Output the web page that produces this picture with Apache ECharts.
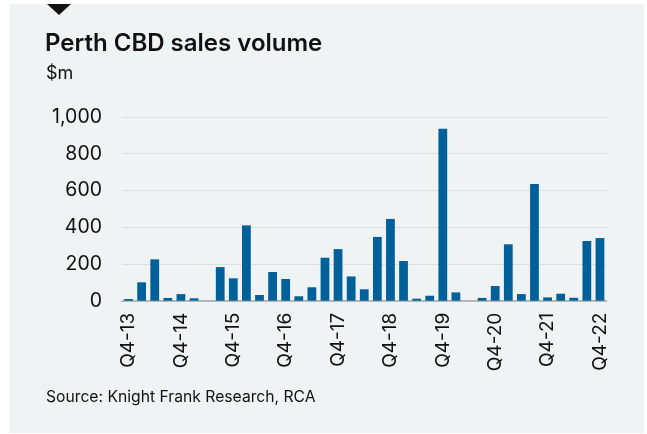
<!DOCTYPE html>
<html>
<head>
<meta charset="utf-8">
<script src="https://cdn.jsdelivr.net/npm/echarts@6/dist/echarts.min.js"></script>
<style>
  html, body { margin: 0; padding: 0; background: #ffffff; }
  #chart { width: 647px; height: 434px; }
</style>
</head>
<body>
<div id="chart"></div>
<script>
// Quarterly categories, Q4-13 through Q4-22
const quarters = [
  'Q4-13','Q1-14','Q2-14','Q3-14','Q4-14','Q1-15','Q2-15','Q3-15','Q4-15',
  'Q1-16','Q2-16','Q3-16','Q4-16','Q1-17','Q2-17','Q3-17','Q4-17',
  'Q1-18','Q2-18','Q3-18','Q4-18','Q1-19','Q2-19','Q3-19','Q4-19',
  'Q1-20','Q2-20','Q3-20','Q4-20','Q1-21','Q2-21','Q3-21','Q4-21',
  'Q1-22','Q2-22','Q3-22','Q4-22'
];
// Sales volume, $m
const salesVolume = [
  9, 100, 225, 15, 36, 13, 0, 183, 122,
  410, 31, 156, 118, 24, 73, 234, 281,
  132, 62, 347, 445, 216, 11, 27, 936,
  45, 0, 15, 80, 307, 36, 635, 18,
  38, 16, 325, 341
];
// Value-axis ticks
const yTicks = [0, 200, 400, 600, 800, 1000];

const FONT = 'Inter, "Liberation Sans", sans-serif';
const chart = echarts.init(document.getElementById('chart'), null, { renderer: 'canvas' });

chart.setOption({
  backgroundColor: '#ffffff',
  animation: false,
  graphic: [
    { type: 'rect', z: -10, shape: { x: 9, y: 4, width: 635, height: 429 }, style: { fill: '#eff3f3' } },
    { type: 'polygon', shape: { points: [[47, 4], [71, 4], [59, 15]] }, style: { fill: '#111111' } },
    { type: 'text', left: 45, top: 32, style: { text: 'Perth CBD sales volume', font: '600 24px ' + FONT, fill: '#111111' } },
    { type: 'text', left: 46, top: 65, style: { text: '$m', font: '400 18px ' + FONT, fill: '#111111' } },
    { type: 'text', left: 46, top: 389, style: { text: 'Source: Knight Frank Research, RCA', font: '400 15.7px ' + FONT, fill: '#111111' } }
  ],
  grid: { left: 122, top: 117, width: 484.5, height: 183.7 },
  xAxis: {
    type: 'category',
    data: quarters,
    axisTick: { show: false },
    axisLine: { lineStyle: { color: '#a3a6a6', width: 1.5 } },
    axisLabel: {
      rotate: 90,
      interval: 3,
      margin: 12,
      color: '#111111',
      fontFamily: FONT,
      fontSize: 19
    }
  },
  yAxis: {
    type: 'value',
    min: yTicks[0],
    max: yTicks[yTicks.length - 1],
    interval: yTicks[1] - yTicks[0],
    axisLine: { show: false },
    axisTick: { show: false },
    splitLine: { lineStyle: { color: '#dcdfdf', width: 1 } },
    axisLabel: {
      margin: 20,
      color: '#111111',
      fontFamily: FONT,
      fontSize: 19.5,
      formatter: v => v.toLocaleString('en-US')
    }
  },
  series: [{
    type: 'bar',
    data: salesVolume,
    barCategoryGap: '33%',
    itemStyle: { color: '#00609a' }
  }]
});
</script>
</body>
</html>
